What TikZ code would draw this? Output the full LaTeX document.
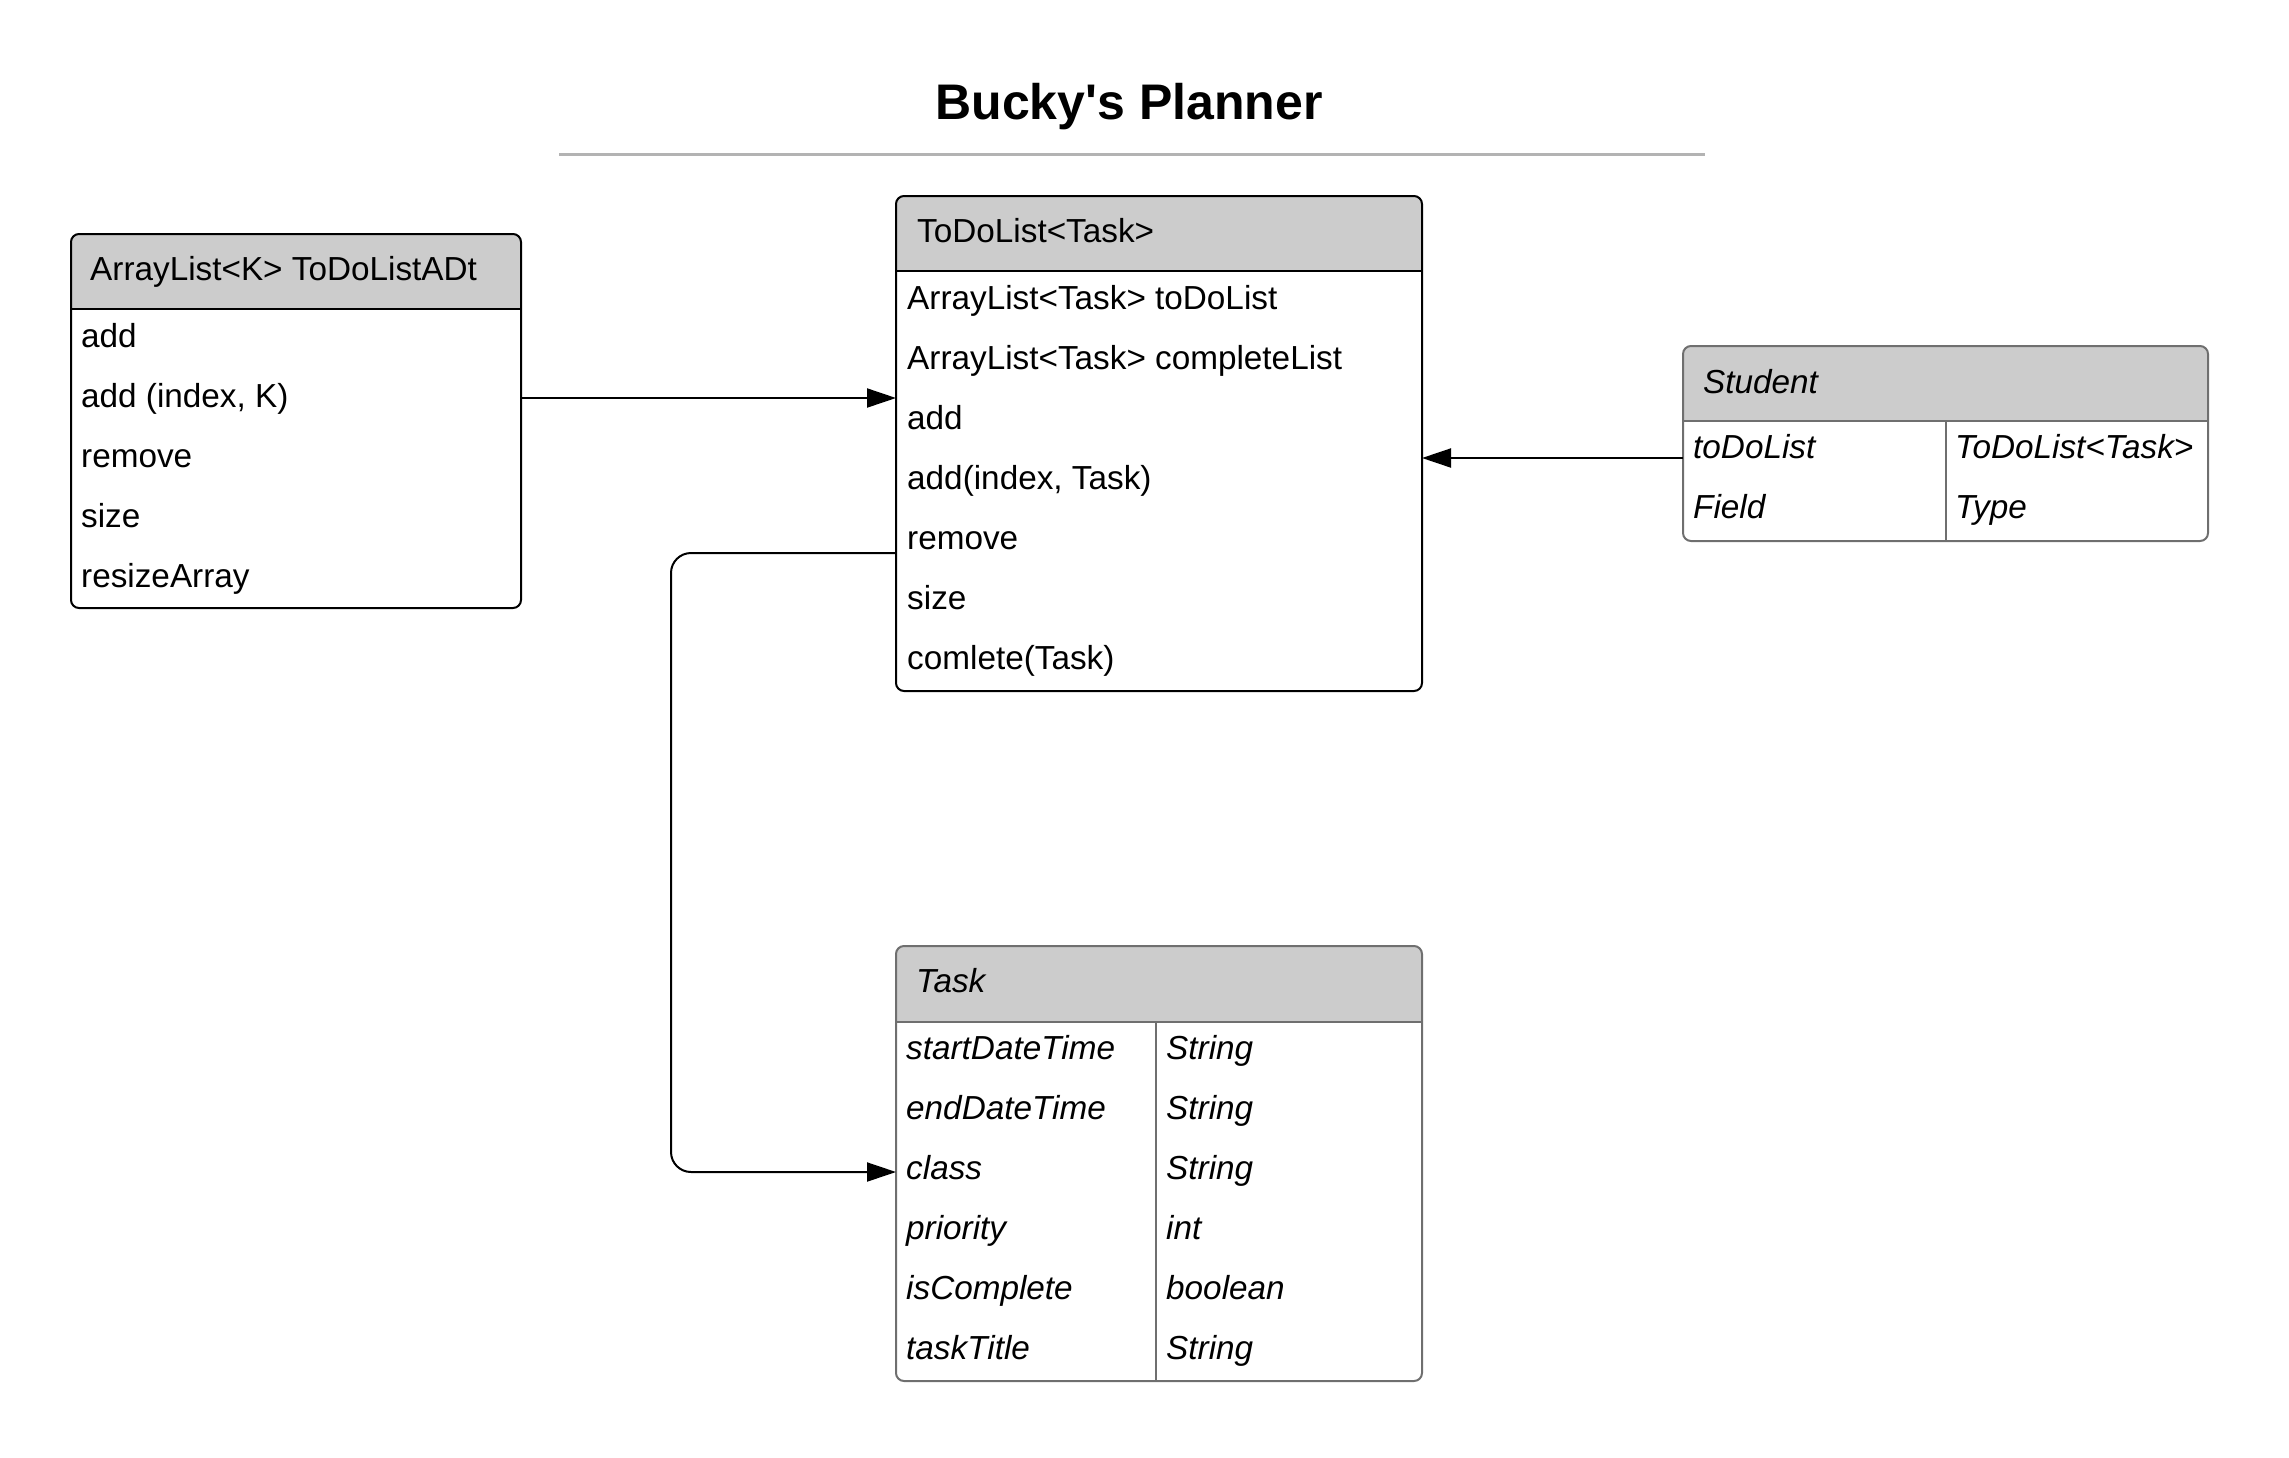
\documentclass[tikz,border=0pt]{standalone}
\usepackage{fontspec}
\setmainfont{Liberation Sans}
\newfontfamily\titlefont[Ligatures=TeXOff]{Liberation Sans}
\usetikzlibrary{arrows.meta}
\definecolor{hdrfill}{HTML}{CCCCCC}
\definecolor{grayline}{HTML}{6F6F6F}
\definecolor{titleline}{HTML}{B3B3B3}
\begin{document}
\begin{tikzpicture}[x=1pt,y=-1pt,
  boxblack/.style={draw=black,line width=2pt,rounded corners=8pt,rectangle,anchor=north west,inner sep=0pt,outer sep=0pt},
  boxgray/.style={draw=grayline,line width=2pt,rounded corners=8pt,rectangle,anchor=north west,inner sep=0pt,outer sep=0pt},
  txt/.style={anchor=base west,inner sep=0pt,font=\fontsize{33.3}{40}\selectfont},
  itxt/.style={txt,font=\fontsize{33.3}{40}\selectfont\itshape},
  conn/.style={draw=black,line width=2pt},
  tip/.style={-{Triangle[length=29pt,width=19pt]}}
]
\useasboundingbox (0,0) rectangle (2289,1457);

% Title
\node[anchor=base,inner sep=0pt,font=\titlefont\bfseries\fontsize{50}{60}\selectfont] (title) at (1129,119) {Bucky's Planner};
\coordinate (tl) at (559,154);
\coordinate (tr) at (1705,154);
\draw[titleline,line width=3pt] (tl) -- (tr);

% ---------- ArrayList box ----------
\begin{scope}
\clip[rounded corners=8pt] (71,234) rectangle (521,608);
\fill[hdrfill] (71,234) rectangle (521,309);
\end{scope}
\node[boxblack,minimum width=450pt,minimum height=374pt] (arr) at (71,234) {};
\draw[black,line width=1.5pt] (71,309) -- (521,309);
\node[txt] (arrh) at (90,280) {ArrayList<K> ToDoListADt};
\node[txt] (arr1) at (81,347) {add};
\node[txt] (arr2) at (81,407) {add (index, K)};
\node[txt] (arr3) at (81,467) {remove};
\node[txt] (arr4) at (81,527) {size};
\node[txt] (arr5) at (81,587) {resizeArray};

% ---------- ToDoList box ----------
\begin{scope}
\clip[rounded corners=8pt] (896,196) rectangle (1422,691);
\fill[hdrfill] (896,196) rectangle (1422,271);
\end{scope}
\node[boxblack,minimum width=526pt,minimum height=495pt] (todo) at (896,196) {};
\draw[black,line width=1.5pt] (896,271) -- (1422,271);
\node[txt] (todoh) at (917,242) {ToDoList<Task>};
\node[txt] (todo1) at (907,309) {ArrayList<Task> toDoList};
\node[txt] (todo2) at (907,369) {ArrayList<Task> completeList};
\node[txt] (todo3) at (907,429) {add};
\node[txt] (todo4) at (907,489) {add(index, Task)};
\node[txt] (todo5) at (907,549) {remove};
\node[txt] (todo6) at (907,609) {size};
\node[txt] (todo7) at (907,669) {comlete(Task)};

% ---------- Student box ----------
\begin{scope}
\clip[rounded corners=8pt] (1683,346) rectangle (2208,541);
\fill[hdrfill] (1683,346) rectangle (2208,421);
\end{scope}
\node[boxgray,minimum width=525pt,minimum height=195pt] (stu) at (1683,346) {};
\draw[grayline,line width=1.5pt] (1683,421) -- (2208,421);
\draw[grayline,line width=2pt] (1946,421) -- (1946,541);
\node[itxt] (stuh) at (1703,393) {Student};
\node[itxt] (stu1a) at (1693,458) {toDoList};
\node[itxt] (stu1b) at (1955,458) {ToDoList<Task>};
\node[itxt] (stu2a) at (1693,518) {Field};
\node[itxt] (stu2b) at (1955,518) {Type};

% ---------- Task box ----------
\begin{scope}
\clip[rounded corners=8pt] (896,946) rectangle (1422,1381);
\fill[hdrfill] (896,946) rectangle (1422,1022);
\end{scope}
\node[boxgray,minimum width=526pt,minimum height=435pt] (task) at (896,946) {};
\draw[grayline,line width=1.5pt] (896,1022) -- (1422,1022);
\draw[grayline,line width=2pt] (1156,1022) -- (1156,1381);
\node[itxt] (taskh) at (916,992) {Task};
\node[itxt] (t1a) at (906,1059) {startDateTime};
\node[itxt] (t1b) at (1166,1059) {String};
\node[itxt] (t2a) at (906,1119) {endDateTime};
\node[itxt] (t2b) at (1166,1119) {String};
\node[itxt] (t3a) at (906,1179) {class};
\node[itxt] (t3b) at (1166,1179) {String};
\node[itxt] (t4a) at (906,1239) {priority};
\node[itxt] (t4b) at (1166,1239) {int};
\node[itxt] (t5a) at (906,1299) {isComplete};
\node[itxt] (t5b) at (1166,1299) {boolean};
\node[itxt] (t6a) at (906,1359) {taskTitle};
\node[itxt] (t6b) at (1166,1359) {String};

% ---------- Connectors ----------
\coordinate (y1) at (0,398);
\coordinate (y2) at (0,458);
\coordinate (y3) at (0,553);
\coordinate (y4) at (0,1172);
\coordinate (bend) at (671,0);
\draw[conn,tip] (arr.east |- y1) -- (todo.west |- y1);
\draw[conn,tip] (stu.west |- y2) -- (todo.east |- y2);
\draw[conn,tip,rounded corners=20pt] (todo.west |- y3) -- (bend |- y3) -- (bend |- y4) -- (task.west |- y4);
\end{tikzpicture}
\end{document}
